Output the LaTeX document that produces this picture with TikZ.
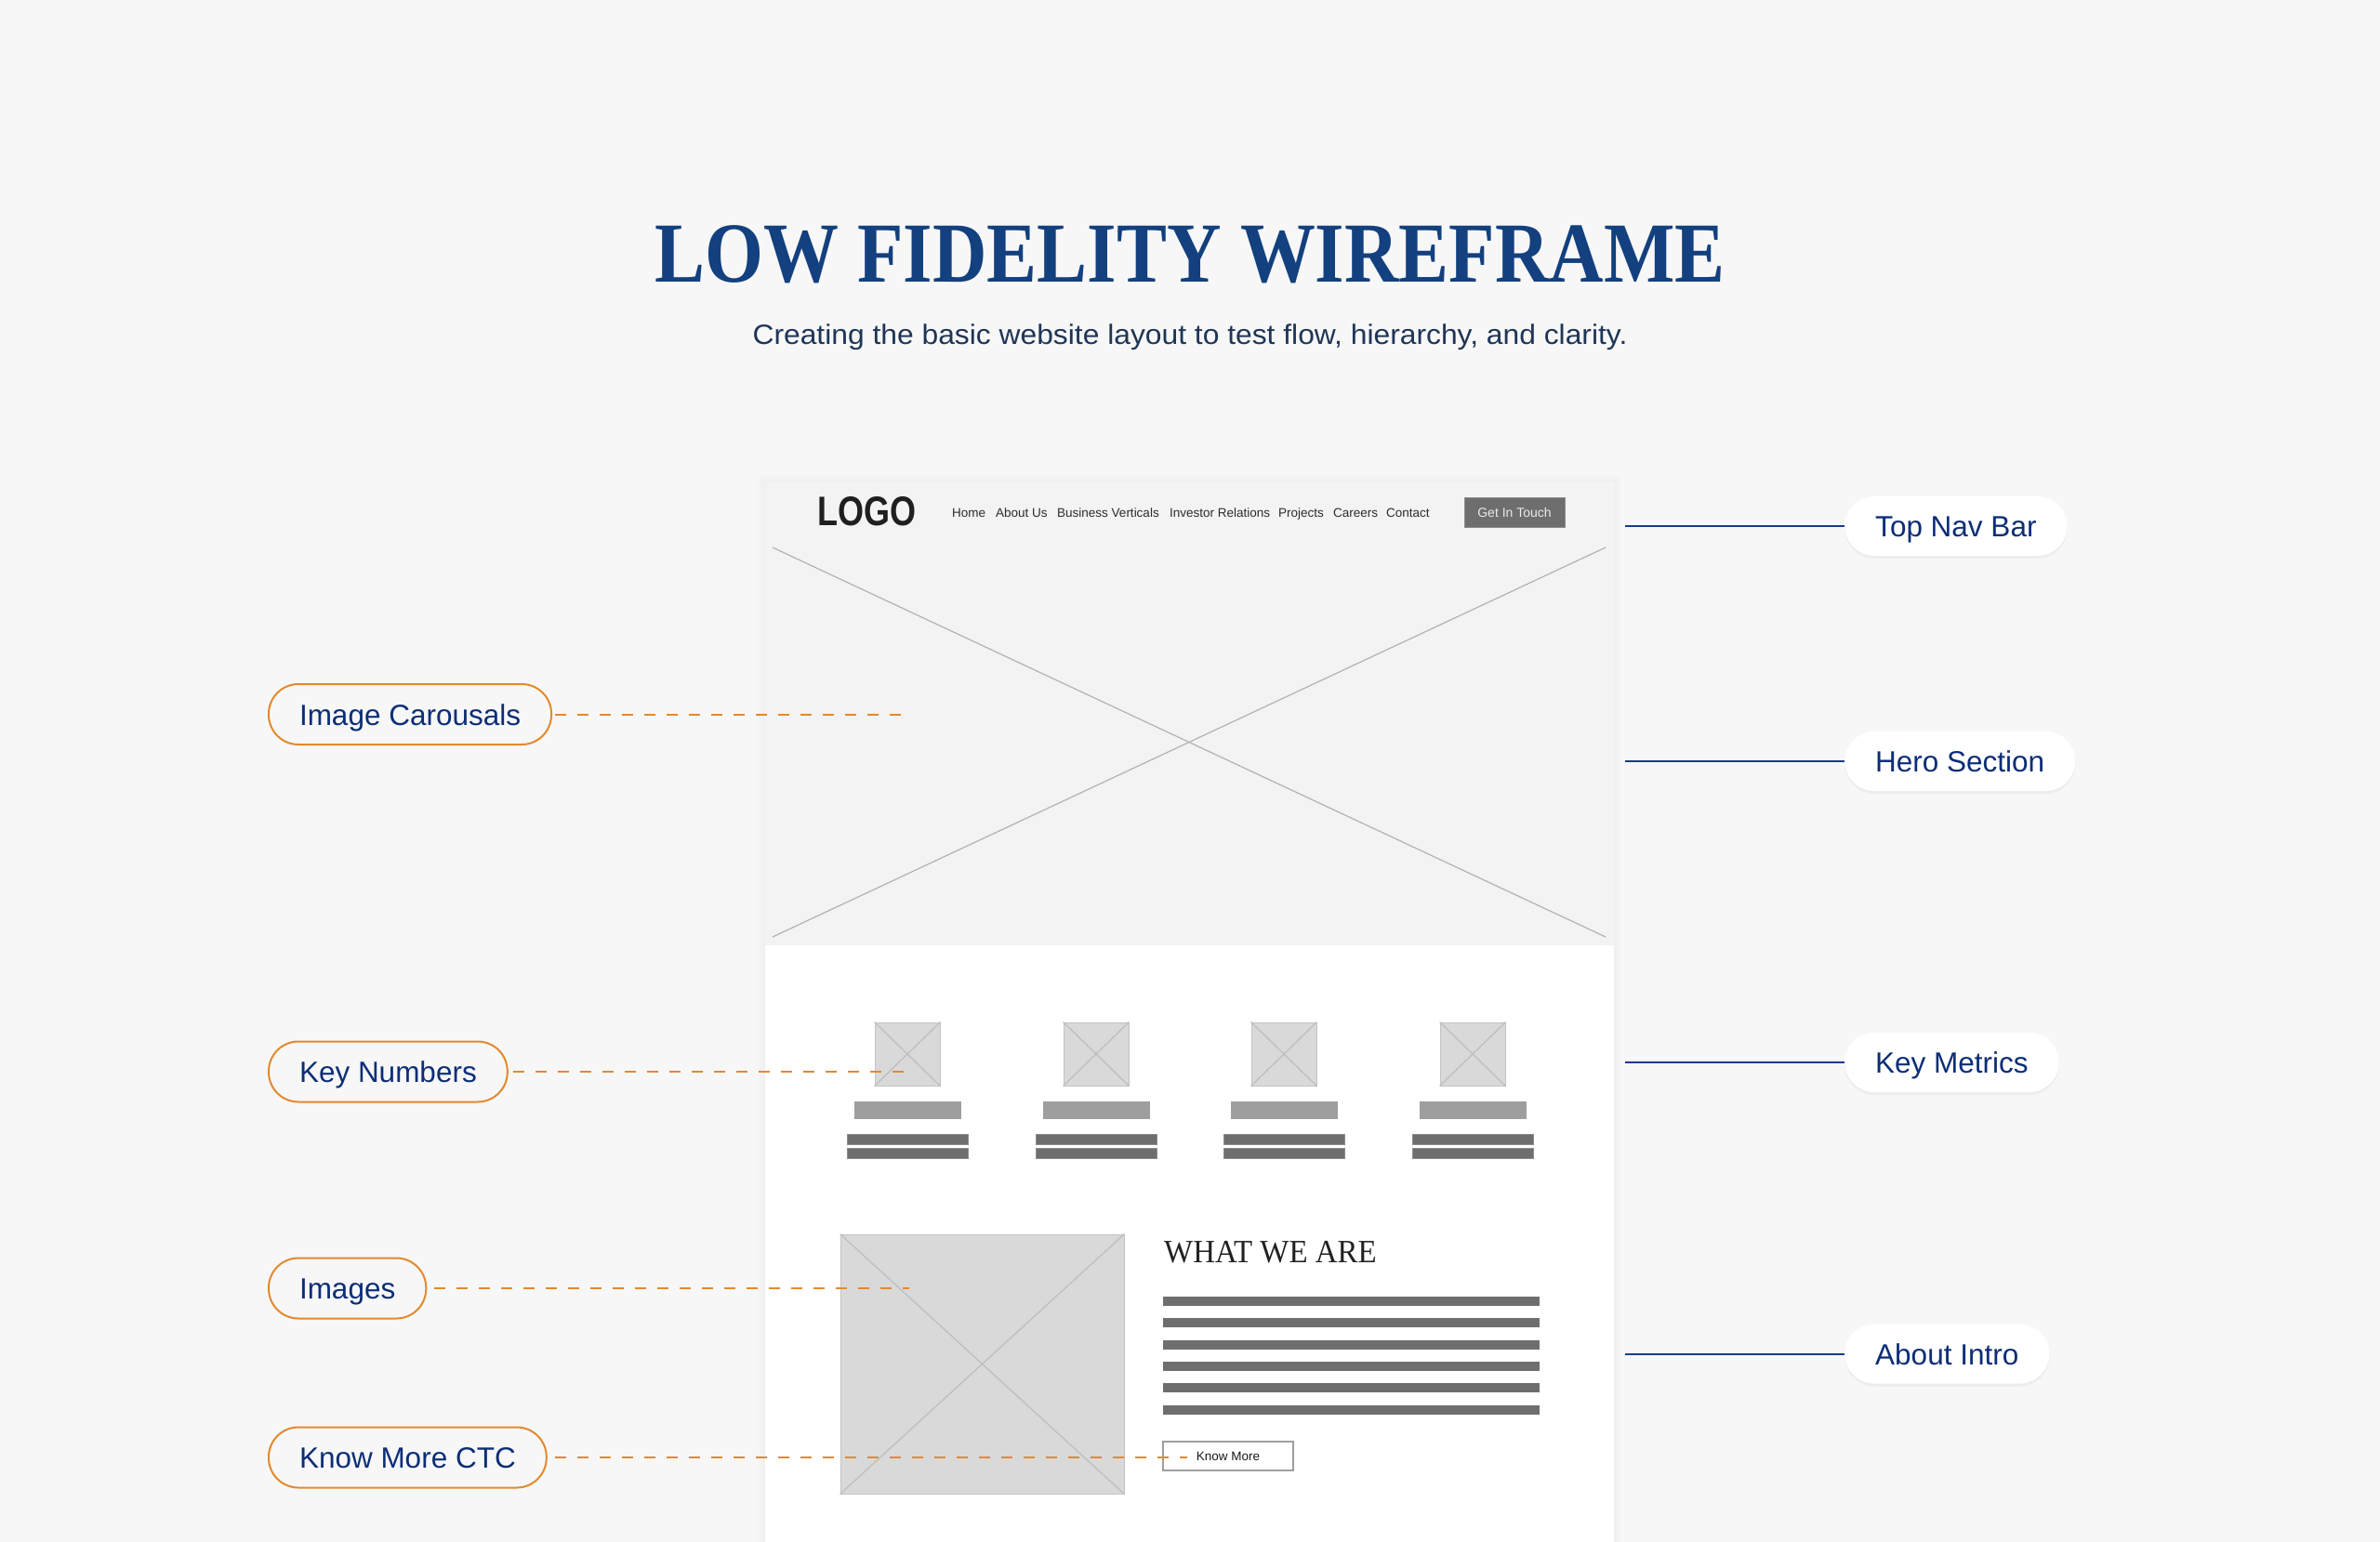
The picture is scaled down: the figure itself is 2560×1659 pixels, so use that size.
\documentclass[tikz,border=0pt]{standalone}
\usepackage{fontspec}
\usepackage{graphicx}
\setmainfont{Liberation Sans}
\newfontfamily\titlefont{Liberation Serif}
\usetikzlibrary{shadows}
\definecolor{bg}{HTML}{F7F7F7}
\definecolor{herogrey}{HTML}{F3F3F3}
\definecolor{titleblue}{HTML}{13407E}
\definecolor{subnavy}{HTML}{1E3556}
\definecolor{navy}{HTML}{0C2E76}
\definecolor{navyline}{HTML}{1B3A8A}
\definecolor{orng}{HTML}{E3892F}
\definecolor{imgfill}{HTML}{D9D9D9}
\definecolor{imgline}{HTML}{BDBDBD}
\definecolor{numbar}{HTML}{9E9E9E}
\definecolor{txtbar}{HTML}{6E6E6E}
\definecolor{navtxt}{HTML}{2B2B2B}
\tikzset{
  lpill/.style={draw=orng, line width=2pt, fill=bg, rounded corners=32pt,
    minimum height=65pt, inner xsep=33pt, inner ysep=0pt, text height=23pt, text depth=0pt,
    font=\fontsize{31.5}{38}\selectfont, text=navy, anchor=west},
  rpill/.style={fill=white, rounded corners=32pt,
    minimum height=64pt, inner xsep=33pt, inner ysep=0pt, text height=23pt, text depth=0pt,
    font=\fontsize{31.5}{38}\selectfont, text=navy, anchor=west,
    drop shadow={opacity=0.08, shadow xshift=0pt, shadow yshift=-3pt}},
  dashlink/.style={draw=orng, line width=2pt, dash pattern=on 12pt off 12pt},
  solidlink/.style={draw=navyline, line width=2pt},
  imgbox/.style={fill=imgfill, draw=imgfill!90!black, line width=0.8pt, inner sep=0pt},
  xline/.style={draw=imgline, line width=1.2pt},
  navlink/.style={font=\fontsize{13.5}{16}\selectfont, text=navtxt, anchor=base west, inner sep=0pt},
}
\begin{document}
\begin{tikzpicture}[x=1pt,y=-1pt]
\useasboundingbox (0,0) rectangle (2560,1659);
\fill[bg] (0,0) rectangle (2560,1659);

% title
\node[anchor=base, text=titleblue, inner sep=0pt,
  font=\titlefont\bfseries\fontsize{92}{100}\selectfont] (title) at (1280,303)
  {\scalebox{0.88}[1]{LOW FIDELITY WIREFRAME}};
\node[anchor=base, text=subnavy, inner sep=0pt,
  font=\fontsize{30}{36}\selectfont] (subtitle) at (1280,370)
  {\scalebox{1.06}[1]{Creating the basic website layout to test flow, hierarchy, and clarity.}};

% panel shadow
\foreach \i in {1,...,8} {
  \fill[black, opacity=0.005] ({823-\i},{518-\i}) rectangle ({1736+\i},1670);
}
% panel
\fill[white] (823,518) rectangle (1736,1659);
\fill[herogrey] (823,518) rectangle (1736,1017);
\coordinate (h1) at (831,589);
\coordinate (h2) at (1727,1008);
\coordinate (h3) at (831,1008);
\coordinate (h4) at (1727,589);
\draw[draw=black!30, line width=1.2pt] (h1) -- (h2);
\draw[draw=black!30, line width=1.2pt] (h3) -- (h4);

% nav
\node[anchor=base west, inner sep=0pt, text=black!88] (logo) at (879,565)
  {\resizebox{106pt}{31pt}{\bfseries LOGO}};
\foreach \px/\lbl [count=\k] in {1024/Home, 1071/About Us, 1137/Business Verticals,
   1258/Investor Relations, 1375/Projects, 1434/Careers, 1491/Contact} {
  \node[navlink] (nav\k) at (\px,556) {\lbl};
}
\node[fill=txtbar, draw=black!45, line width=0.6pt, minimum width=108pt, minimum height=32pt,
  inner sep=0pt, text=black!8, font=\fontsize{14}{16}\selectfont] (git) at (1629,551) {Get In Touch};

% key metrics
\foreach \cx [count=\i] in {976,1179,1381,1584} {
  \node[imgbox, minimum width=70pt, minimum height=68pt] (ic\i) at (\cx,1134) {};
  \draw[xline] (ic\i.north west) -- (ic\i.south east);
  \draw[xline] (ic\i.south west) -- (ic\i.north east);
  \node[fill=numbar, inner sep=0pt, minimum width=115pt, minimum height=19pt] (num\i) at (\cx,1194.5) {};
  \node[fill=txtbar, draw=black!45, line width=0.5pt, inner sep=0pt, minimum width=130pt, minimum height=11pt] (ta\i) at (\cx,1225.5) {};
  \node[fill=txtbar, draw=black!45, line width=0.5pt, inner sep=0pt, minimum width=130pt, minimum height=11pt] (tb\i) at (\cx,1240.5) {};
}

% about
\node[imgbox, minimum width=305pt, minimum height=279pt] (aimg) at (1056.5,1467.5) {};
\draw[xline] (aimg.north west) -- (aimg.south east);
\draw[xline] (aimg.south west) -- (aimg.north east);
\node[anchor=base west, inner sep=0pt, text=black!87,
  font=\titlefont\fontsize{35}{40}\selectfont] (wwa) at (1252,1358)
  {\scalebox{0.94}[1]{WHAT WE ARE}};
\foreach \ly [count=\j] in {1395,1418.3,1441.6,1464.9,1488.2,1511.5} {
  \fill[txtbar] (1251,\ly) rectangle (1656,\ly+10);
}
\node[fill=white, draw=black!38, line width=1.2pt, minimum width=140pt, minimum height=31pt,
  inner sep=0pt, text=black!90, font=\fontsize{13.5}{16}\selectfont] (kmb) at (1321,1566.5) {Know More};

% left labels
\node[lpill] (lic) at (288,768.5) {Image Carousals};
\node[lpill] (lkn) at (288,1153) {Key Numbers};
\node[lpill] (lim) at (288,1386) {Images};
\node[lpill] (lkm) at (288,1568) {Know More CTC};
\coordinate (eic) at (976,768.5);
\coordinate (ekn) at (977,1153);
\coordinate (eim) at (978,1386);
\coordinate (ekm) at (1277,1568);
\draw[dashlink] ([xshift=3pt]lic.east) -- (eic);
\draw[dashlink] ([xshift=5pt]lkn.east) -- (ekn);
\draw[dashlink] ([xshift=8pt]lim.east) -- (eim);
\draw[dashlink] ([xshift=8pt]lkm.east) -- (ekm);

% right labels
\node[rpill] (rtn) at (1984,566) {Top Nav Bar};
\node[rpill] (rhs) at (1984,819) {Hero Section};
\node[rpill] (rkm) at (1984,1143) {Key Metrics};
\node[rpill] (rai) at (1984,1456.5) {About Intro};
\coordinate (stn) at (1748,566);
\coordinate (shs) at (1748,819);
\coordinate (skm) at (1748,1143);
\coordinate (sai) at (1748,1456.5);
\draw[solidlink] (stn) -- (rtn.west);
\draw[solidlink] (shs) -- (rhs.west);
\draw[solidlink] (skm) -- (rkm.west);
\draw[solidlink] (sai) -- (rai.west);
\end{tikzpicture}
\end{document}
